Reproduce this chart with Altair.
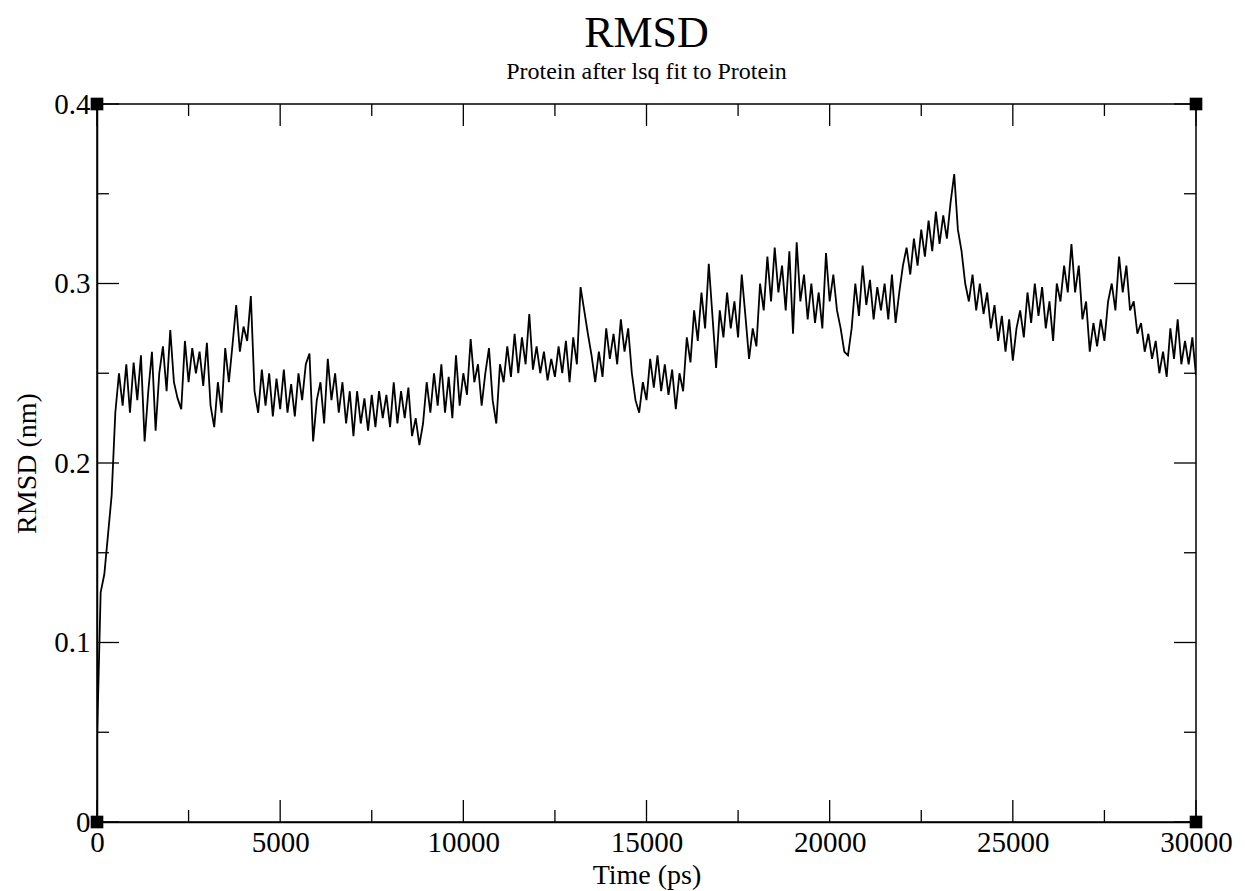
import altair as alt
import pandas as pd

rmsd_nm = [
    0.045, 0.128, 0.138, 0.160, 0.182, 0.228, 0.250, 0.232, 0.255, 0.228,   # 0-900
    0.256, 0.235, 0.260, 0.212, 0.240, 0.262, 0.218, 0.250, 0.265, 0.240,   # 1000-1900
    0.274, 0.245, 0.236, 0.230, 0.268, 0.245, 0.264, 0.250, 0.262, 0.243,   # 2000-2900
    0.267, 0.232, 0.220, 0.245, 0.228, 0.264, 0.245, 0.266, 0.288, 0.262,   # 3000-3900
    0.276, 0.268, 0.293, 0.240, 0.228, 0.252, 0.232, 0.250, 0.226, 0.247,   # 4000-4900
    0.230, 0.252, 0.228, 0.244, 0.226, 0.250, 0.235, 0.255, 0.261, 0.212,   # 5000-5900
    0.235, 0.245, 0.222, 0.258, 0.235, 0.250, 0.228, 0.245, 0.222, 0.240,   # 6000-6900
    0.215, 0.240, 0.222, 0.236, 0.218, 0.238, 0.220, 0.240, 0.225, 0.238,   # 7000-7900
    0.220, 0.245, 0.222, 0.240, 0.225, 0.242, 0.215, 0.225, 0.210, 0.222,   # 8000-8900
    0.245, 0.228, 0.250, 0.232, 0.255, 0.228, 0.248, 0.225, 0.260, 0.232,   # 9000-9900
    0.250, 0.238, 0.269, 0.245, 0.255, 0.232, 0.250, 0.264, 0.235, 0.222,   # 10000-10900
    0.255, 0.245, 0.265, 0.248, 0.272, 0.250, 0.270, 0.255, 0.283, 0.252,   # 11000-11900
    0.265, 0.250, 0.262, 0.246, 0.258, 0.248, 0.265, 0.250, 0.268, 0.245,   # 12000-12900
    0.270, 0.255, 0.298, 0.285, 0.272, 0.260, 0.245, 0.262, 0.248, 0.275,   # 13000-13900
    0.258, 0.272, 0.255, 0.280, 0.262, 0.275, 0.250, 0.235, 0.228, 0.245,   # 14000-14900
    0.235, 0.258, 0.242, 0.260, 0.240, 0.255, 0.238, 0.252, 0.230, 0.250,   # 15000-15900
    0.240, 0.270, 0.256, 0.285, 0.268, 0.295, 0.275, 0.311, 0.282, 0.253,   # 16000-16900
    0.285, 0.270, 0.295, 0.275, 0.290, 0.270, 0.305, 0.282, 0.258, 0.275,   # 17000-17900
    0.265, 0.300, 0.285, 0.315, 0.290, 0.320, 0.295, 0.310, 0.285, 0.318,   # 18000-18900
    0.272, 0.323, 0.290, 0.305, 0.280, 0.300, 0.278, 0.295, 0.275, 0.317,   # 19000-19900
    0.290, 0.305, 0.285, 0.275, 0.262, 0.260, 0.275, 0.300, 0.282, 0.310,   # 20000-20900
    0.288, 0.302, 0.280, 0.298, 0.285, 0.300, 0.280, 0.305, 0.278, 0.295,   # 21000-21900
    0.310, 0.320, 0.305, 0.325, 0.310, 0.330, 0.315, 0.335, 0.318, 0.340,   # 22000-22900
    0.322, 0.338, 0.325, 0.345, 0.361, 0.330, 0.318, 0.300, 0.290, 0.305,   # 23000-23900
    0.285, 0.300, 0.283, 0.295, 0.275, 0.288, 0.268, 0.282, 0.262, 0.280,   # 24000-24900
    0.257, 0.275, 0.285, 0.270, 0.295, 0.278, 0.300, 0.282, 0.298, 0.275,   # 25000-25900
    0.290, 0.268, 0.300, 0.290, 0.310, 0.295, 0.322, 0.295, 0.310, 0.280,   # 26000-26900
    0.290, 0.262, 0.278, 0.265, 0.280, 0.268, 0.290, 0.300, 0.285, 0.315,   # 27000-27900
    0.295, 0.310, 0.285, 0.290, 0.272, 0.278, 0.262, 0.272, 0.258, 0.268,   # 28000-28900
    0.250, 0.262, 0.248, 0.275, 0.258, 0.280, 0.255, 0.268, 0.255, 0.270,   # 29000-29900
    0.249,                                                                  # 30000
]
time_ps = [i * 100 for i in range(len(rmsd_nm))]

x_major = [0, 5000, 10000, 15000, 20000, 25000, 30000]
x_minor = [2500, 7500, 12500, 17500, 22500, 27500]
y_major = [0.0, 0.1, 0.2, 0.3, 0.4]
y_minor = [0.05, 0.15, 0.25, 0.35]
corner_t = [0, 0, 30000, 30000]
corner_v = [0.0, 0.4, 0.0, 0.4]

W, H = 1099, 718
FONT = "Liberation Serif"
MAJ, MIN = 22, 12

df = pd.DataFrame({"t": time_ps, "v": rmsd_nm})

xscale = alt.Scale(domain=[0, 30000], nice=False, zero=False)
yscale = alt.Scale(domain=[0, 0.4], nice=False, zero=False)

line = alt.Chart(df).mark_line(color="black", strokeWidth=1.8, clip=True).encode(
    x=alt.X("t:Q", scale=xscale,
            axis=alt.Axis(values=x_major, format="d", title="Time (ps)", ticks=False, tickSize=0,
                          grid=False, labelFontSize=29, labelPadding=6, titleFontSize=28,
                          titlePadding=4, labelFlush=False, labelOverlap=False, labelBound=False)),
    y=alt.Y("v:Q", scale=yscale,
            axis=alt.Axis(values=y_major, format="~g", title="RMSD (nm)", ticks=False, tickSize=0,
                          grid=False, labelFontSize=29, labelPadding=7, titleFontSize=28,
                          titlePadding=12, labelFlush=False, labelOverlap=False, labelBound=False)),
)


def xticks(vals, length, top):
    d = pd.DataFrame({"t": vals})
    if top:
        yy, yy2 = alt.value(0), alt.value(length)
    else:
        yy, yy2 = alt.value(H), alt.value(H - length)
    return alt.Chart(d).mark_rule(color="black", strokeWidth=1.3).encode(
        x=alt.X("t:Q", scale=xscale), y=yy, y2=yy2)


def yticks(vals, length, right):
    d = pd.DataFrame({"v": vals})
    if right:
        xx, xx2 = alt.value(W), alt.value(W - length)
    else:
        xx, xx2 = alt.value(0), alt.value(length)
    return alt.Chart(d).mark_rule(color="black", strokeWidth=1.3).encode(
        y=alt.Y("v:Q", scale=yscale), x=xx, x2=xx2)


ticks = [
    xticks(x_major, MAJ, False), xticks(x_major, MAJ, True),
    xticks(x_minor, MIN, False), xticks(x_minor, MIN, True),
    yticks(y_major, MAJ, False), yticks(y_major, MAJ, True),
    yticks(y_minor, MIN, False), yticks(y_minor, MIN, True),
]

corners = alt.Chart(pd.DataFrame({"t": corner_t, "v": corner_v})).mark_square(
    size=160, color="black", opacity=1, filled=True
).encode(x=alt.X("t:Q", scale=xscale), y=alt.Y("v:Q", scale=yscale))

chart = alt.layer(line, *ticks, corners).properties(
    width=W, height=H,
    title=alt.TitleParams(
        text="RMSD", subtitle="Protein after lsq fit to Protein",
        font=FONT, fontSize=44, fontWeight="normal", color="black",
        subtitleFont=FONT, subtitleFontSize=24, subtitleColor="black",
        subtitlePadding=4, anchor="middle", offset=6,
    ),
    autosize=alt.AutoSizeParams(type="none"),
    padding={"left": 97, "top": 104, "right": 49, "bottom": 69},
).configure_axis(
    labelFont=FONT, titleFont=FONT, labelColor="black", titleColor="black",
    titleFontWeight="normal", domainColor="black", domainWidth=1.5,
).configure_view(stroke="black", strokeWidth=1.5)

chart.save("out.html", embed_options={"renderer": "svg", "actions": False})
